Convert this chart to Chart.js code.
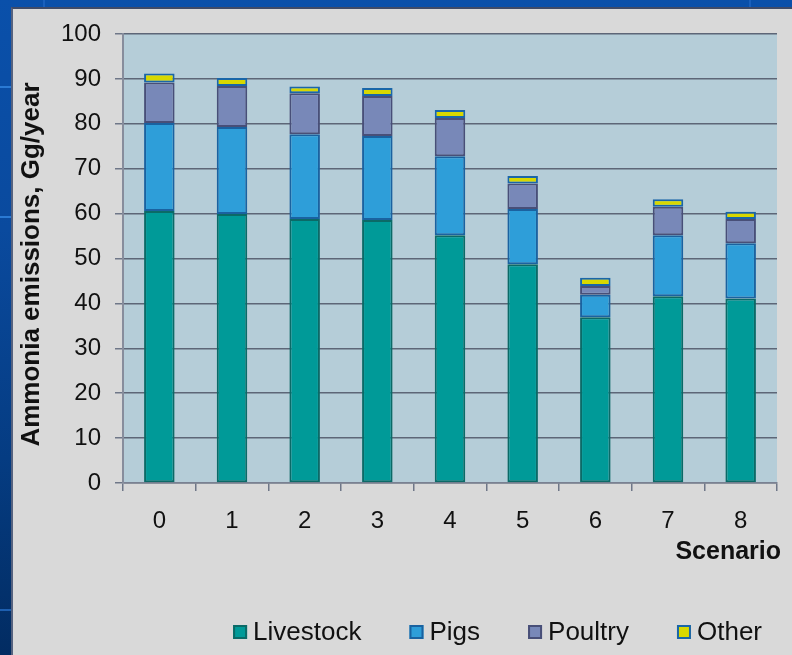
<!DOCTYPE html>
<html>
<head>
<meta charset="utf-8">
<script src="https://cdn.jsdelivr.net/npm/chart.js@4.4.1/dist/chart.umd.min.js"></script>
<style>
  html, body { margin: 0; padding: 0; }
  body {
    width: 792px; height: 655px; overflow: hidden; position: relative;
    background: linear-gradient(to bottom, #0a50aa 0%, #0a4a9e 35%, #053c82 70%, #022c62 100%);
    font-family: "Liberation Sans", Arial, sans-serif;
  }
  .line { position: absolute; background: #2a7ad4; }
  #panel {
    position: absolute; left: 11px; top: 7px; width: 781px; height: 648px;
    background: #d9d9d9;
    border-left: 2px solid #55627f; border-top: 2px solid #3f4b68;
    box-sizing: border-box;
  }
  #chart { position: absolute; left: 0; top: 0; }
</style>
</head>
<body>
<div class="line" style="left:0;top:86px;width:11px;height:2px;"></div>
<div class="line" style="left:0;top:216px;width:11px;height:2px;"></div>
<div class="line" style="left:0;top:609px;width:11px;height:2px;background:#1d5fb0;"></div>
<div class="line" style="left:43px;top:0;width:2px;height:7px;background:#1a60bc;"></div>
<div class="line" style="left:749px;top:0;width:2px;height:7px;background:#1a60bc;"></div>
<div id="panel"></div>
<canvas id="chart" width="792" height="655"></canvas>
<script>
// Ammonia emissions by scenario (Gg/year), stacked by source
const scenarios = ['0', '1', '2', '3', '4', '5', '6', '7', '8'];
const livestock = [60.6, 59.9, 58.8, 58.6, 55.2, 48.7, 36.9, 41.6, 41.1];
const pigs      = [19.6, 19.4, 18.9, 18.7, 17.6, 12.3, 5.0, 13.6, 12.3];
const poultry   = [9.0, 9.1, 9.1, 8.9, 8.5, 5.7, 2.0, 6.3, 5.4];
const other     = [2.0, 1.8, 1.5, 1.8, 1.8, 1.7, 1.8, 1.7, 1.6];
const yTicks    = [0, 10, 20, 30, 40, 50, 60, 70, 80, 90, 100];

const FONT = '"Liberation Sans", Arial, sans-serif';

function series(label, data, fill, edge) {
  return {
    label, data,
    backgroundColor: fill,
    borderColor: edge,
    borderWidth: 2,
    borderSkipped: false,
    categoryPercentage: 0.42,
    barPercentage: 1.0
  };
}

// Plot-area fill drawn behind grid and bars
const plotBackground = {
  id: 'plotBackground',
  beforeDraw(chart) {
    const { ctx, chartArea: a } = chart;
    ctx.save();
    ctx.fillStyle = '#b5cdd8';
    ctx.fillRect(a.left, a.top, a.right - a.left, a.bottom - a.top);
    ctx.restore();
  }
};

// Axis titles and the bottom legend
const annotations = {
  id: 'annotations',
  afterDraw(chart) {
    const { ctx, chartArea: a } = chart;
    ctx.save();
    ctx.fillStyle = '#111111';

    // y-axis title
    ctx.font = 'bold 26px ' + FONT;
    ctx.translate(39, (a.top + a.bottom) / 2 + 6);
    ctx.rotate(-Math.PI / 2);
    ctx.textAlign = 'center';
    ctx.textBaseline = 'alphabetic';
    ctx.fillText('Ammonia emissions, Gg/year', 0, 0);
    ctx.setTransform(1, 0, 0, 1, 0, 0);

    // x-axis title
    ctx.font = 'bold 25px ' + FONT;
    ctx.textAlign = 'right';
    ctx.fillText('Scenario', 781, 559);

    // legend
    ctx.font = '26px ' + FONT;
    const box = 14, gapText = 6, gapItem = 48;
    const items = chart.data.datasets.map(d => ({
      label: d.label, fill: d.backgroundColor, edge: d.borderColor,
      w: box + gapText + ctx.measureText(d.label).width
    }));
    const total = items.reduce((s, it) => s + it.w, 0) + gapItem * (items.length - 1);
    let x = 762 - total;
    const cy = 632;
    ctx.textAlign = 'left';
    ctx.textBaseline = 'middle';
    items.forEach(it => {
      ctx.fillStyle = it.fill;
      ctx.fillRect(x, cy - box / 2, box, box);
      ctx.strokeStyle = it.edge;
      ctx.lineWidth = 2;
      ctx.strokeRect(x + 1, cy - box / 2 + 1, box - 2, box - 2);
      ctx.fillStyle = '#111111';
      ctx.fillText(it.label, x + box + gapText, cy + 1);
      x += it.w + gapItem;
    });
    ctx.restore();
  }
};

new Chart(document.getElementById('chart'), {
  type: 'bar',
  data: {
    labels: scenarios,
    datasets: [
      series('Livestock', livestock, '#009a98', '#0b6a67'),
      series('Pigs', pigs, '#2e9ed9', '#1a62a0'),
      series('Poultry', poultry, '#7888b8', '#484f78'),
      series('Other', other, '#d8d800', '#1a66a8')
    ]
  },
  options: {
    responsive: false,
    animation: false,
    events: [],
    layout: { padding: { top: 34, right: 15, left: 0, bottom: 0 } },
    plugins: { legend: { display: false }, tooltip: { enabled: false } },
    scales: {
      x: {
        stacked: true,
        offset: true,
        afterFit(scale) { scale.height = 172; },
        grid: {
          offset: true, drawOnChartArea: false, drawTicks: true,
          tickLength: 8, color: '#6f7788', lineWidth: 1.5
        },
        border: { display: true, color: '#7a8192', width: 1.5 },
        ticks: { color: '#111111', padding: 16, font: { family: FONT, size: 24 } }
      },
      y: {
        stacked: true,
        min: 0, max: 100,
        afterFit(scale) { scale.width = 123; },
        afterBuildTicks(scale) { scale.ticks = yTicks.map(v => ({ value: v })); },
        grid: {
          color: '#5d6677', lineWidth: 1.5, drawTicks: true, tickLength: 8,
          tickColor: '#6f7788'
        },
        border: { display: true, color: '#878d9c', width: 2 },
        ticks: { color: '#111111', padding: 14, font: { family: FONT, size: 24 } }
      }
    }
  },
  plugins: [plotBackground, annotations]
});
</script>
</body>
</html>
